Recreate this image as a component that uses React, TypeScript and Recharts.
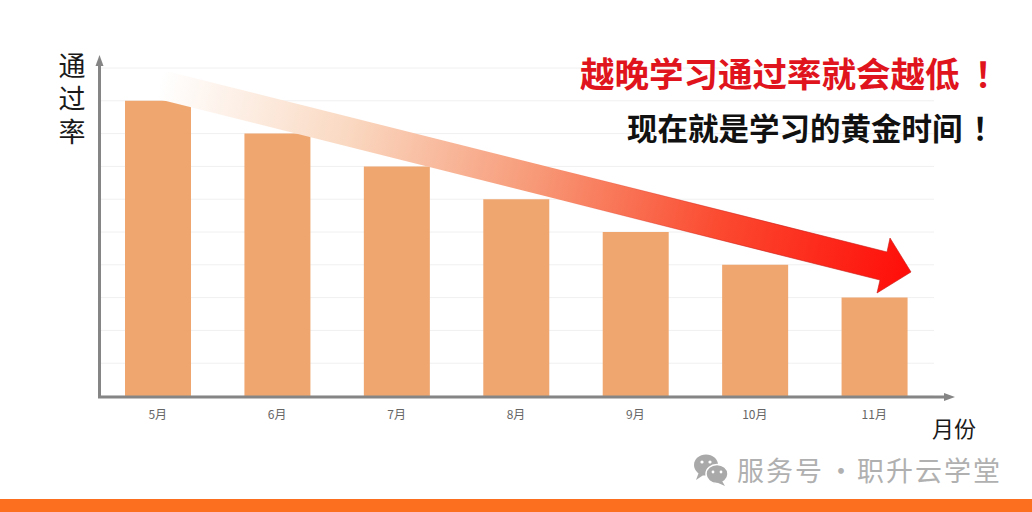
import React from "react";
import { BarChart, Bar, XAxis, YAxis, CartesianGrid } from "recharts";

const months = ["5月", "6月", "7月", "8月", "9月", "10月", "11月"];
const passRates = [9, 8, 7, 6, 5, 4, 3];
const yTicks = [0, 1, 2, 3, 4, 5, 6, 7, 8, 9, 10];
const headline = "越晚学习通过率就会越低";
const subline = "现在就是学习的黄金时间";
const bang = "！";
const yTitle = ["通", "过", "率"];
const xTitle = "月份";
const watermarkLeft = "服务号";
const watermarkDot = "·";
const watermarkRight = "职升云学堂";

const data = months.map((month, i) => ({ month, rate: passRates[i] }));
const CJK = '"Noto Sans CJK SC", "Noto Sans", sans-serif';

export default function App() {
  return (
    <div style={{ position: "absolute", left: 0, top: 0, width: 1032, height: 512, background: "#fff", overflow: "hidden" }}>
      <div style={{ position: "absolute", left: 0, top: 0 }}>
        <BarChart
          width={1032}
          height={512}
          data={data}
          margin={{ top: 68, right: 98, bottom: 86, left: 98 }}
        >
          <CartesianGrid vertical={false} stroke="#f0f0f0" strokeWidth={1} />
          <XAxis
            dataKey="month"
            axisLine={false}
            tickLine={false}
            tickMargin={8}
            tick={{ fontSize: 12, fill: "#666666", fontFamily: CJK }}
          />
          <YAxis hide domain={[0, 10]} ticks={yTicks} />
          <Bar dataKey="rate" fill="#efa66f" barSize={66} isAnimationActive={false} />
        </BarChart>
      </div>
      <svg width={1032} height={512} style={{ position: "absolute", left: 0, top: 0, pointerEvents: "none" }}>
        <defs>
          <linearGradient id="arrowFill" gradientUnits="userSpaceOnUse" x1="160" y1="85" x2="905" y2="272">
            <stop offset="0" stopColor="#ffffff" />
            <stop offset="0.25" stopColor="#fad9c2" />
            <stop offset="0.5" stopColor="#f79a78" />
            <stop offset="0.75" stopColor="#fb4a30" />
            <stop offset="1" stopColor="#ff0f0a" />
          </linearGradient>
          <linearGradient id="arrowEdge" gradientUnits="userSpaceOnUse" x1="560" y1="170" x2="780" y2="225">
            <stop offset="0" stopColor="#c81a14" stopOpacity={0} />
            <stop offset="1" stopColor="#c81a14" stopOpacity={0.6} />
          </linearGradient>
        </defs>

        {/* axes with arrowheads */}
        <line x1={99.5} y1={397} x2={99.5} y2={64} stroke="#858585" strokeWidth={3} />
        <polygon points="99.5,55 95.5,66 103.5,66" fill="#858585" />
        <line x1={98} y1={397} x2={946} y2={397} stroke="#858585" strokeWidth={3} />
        <polygon points="955,397 944,393 944,401" fill="#858585" />

        {/* trend arrow */}
        <polygon
          points="158,69 887,252 890,238 911,272 877,293 880,280 158,99"
          fill="url(#arrowFill)"
          stroke="url(#arrowEdge)"
          strokeWidth={1}
        />

        {/* titles */}
        <text textAnchor="middle" fontSize={27} fill="#1a1a1a" fontFamily={CJK}>
          {yTitle.map((ch, i) => (
            <tspan key={ch} x={72} y={76 + i * 33}>
              {ch}
            </tspan>
          ))}
        </text>
        <text x={954} y={437} textAnchor="middle" fontSize={22} fill="#1a1a1a" fontFamily={CJK}>
          {xTitle}
        </text>
        <text x={580} y={87} fontSize={34.5} fontWeight={700} fill="#e0141c" fontFamily={CJK}>
          {headline}
          <tspan dx={15}>{bang}</tspan>
        </text>
        <text x={627} y={140} fontSize={30.5} fontWeight={700} fill="#111111" fontFamily={CJK}>
          {subline}
          <tspan dx={10}>{bang}</tspan>
        </text>

        {/* watermark */}
        <g fill="#a9a9a9">
          <ellipse cx={706} cy={465} rx={12} ry={10.5} />
          <polygon points="699,472 696,480 705,474" />
        </g>
        <g fill="#a9a9a9" stroke="#ffffff" strokeWidth={1.5}>
          <ellipse cx={717} cy={474} rx={11} ry={9.5} />
        </g>
        <polygon points="722,481 725,486 716,482" fill="#a9a9a9" />
        <g fill="#ffffff">
          <circle cx={702} cy={462} r={1.6} />
          <circle cx={710} cy={462} r={1.6} />
          <circle cx={713} cy={472} r={1.4} />
          <circle cx={721} cy={472} r={1.4} />
        </g>
        <g fontSize={27} fill="#b0b0b0" fontFamily={CJK} letterSpacing={2}>
          <text x={737} y={481}>{watermarkLeft}</text>
          <text x={841} y={481} textAnchor="middle" letterSpacing={0}>{watermarkDot}</text>
          <text x={857} y={481}>{watermarkRight}</text>
        </g>

        {/* bottom band */}
        <rect x={0} y={499} width={1032} height={13} fill="#fb6f1f" />
      </svg>
    </div>
  );
}
